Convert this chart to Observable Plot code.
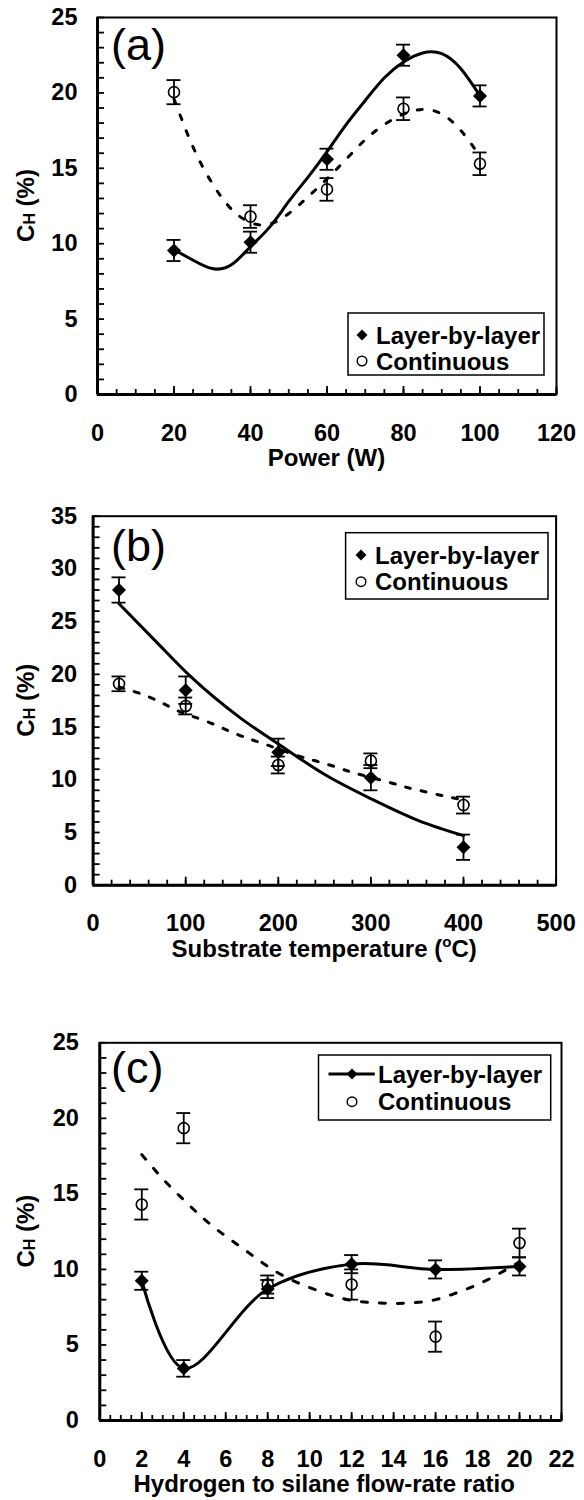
<!DOCTYPE html>
<html><head><meta charset="utf-8">
<script src="https://cdn.jsdelivr.net/npm/d3@7"></script>
<script src="https://cdn.jsdelivr.net/npm/@observablehq/plot@0.6"></script>
<style>
html,body{margin:0;padding:0;background:#fff;overflow:hidden}
#chart{position:relative;width:584px;height:1500px}
#chart svg{display:block}
</style></head><body><div id="chart"></div>
<script>
// ---------- Panel (a): Power ----------
const powerW = [20, 40, 60, 80, 100];
const powerLBL = [9.55, 10.1, 15.6, 22.5, 19.8];
const powerLBLerr = [0.7, 0.7, 0.7, 0.7, 0.7];
const powerCont = [20.05, 11.8, 13.6, 18.95, 15.3];
const powerContErr = [0.8, 0.75, 0.75, 0.75, 0.75];
const powerFitLBLx = [20, 25, 30, 35, 40, 45, 50, 55, 60, 65, 70, 75, 80, 85, 90, 95, 100];
const powerFitLBLy = [9.6, 8.9, 8.35, 8.6, 9.8, 11.1, 12.8, 14.4, 16.1, 17.9, 19.5, 21.0, 22.05, 22.65, 22.6, 21.6, 19.8];
const powerFitContx = [20, 25, 30, 35, 40, 45, 50, 55, 60, 65, 70, 75, 80, 85, 90, 95, 100];
const powerFitConty = [19.6, 16.4, 14.0, 12.3, 11.4, 11.3, 12.0, 13.1, 14.3, 15.6, 16.9, 17.9, 18.6, 18.9, 18.6, 17.5, 15.8];
const powerXTicks = [0, 20, 40, 60, 80, 100, 120];
const powerYTicks = [0, 5, 10, 15, 20, 25];

// ---------- Panel (b): Substrate temperature ----------
const tempC = [28, 100, 200, 300, 400];
const tempLBL = [28.0, 18.5, 12.6, 10.2, 3.6];
const tempLBLerr = [1.2, 1.3, 1.3, 1.2, 1.2];
const tempCont = [19.1, 17.0, 11.4, 11.8, 7.6];
const tempContErr = [0.7, 0.8, 0.8, 0.7, 0.8];
const tempFitLBLx = [28, 68, 104, 160, 200, 252, 300, 352, 400];
const tempFitLBLy = [26.7, 23.1, 19.9, 15.8, 13.4, 10.4, 8.2, 6.1, 4.7];
const tempFitContx = [28, 50, 72, 90, 108, 132, 150, 168, 188, 224, 244, 266, 284, 322, 342, 362, 382, 400];
const tempFitConty = [18.8, 18.2, 17.4, 16.6, 16.0, 15.2, 14.5, 13.9, 13.3, 12.2, 11.7, 11.1, 10.6, 9.7, 9.2, 8.8, 8.4, 8.1];
const tempXTicks = [0, 100, 200, 300, 400, 500];
const tempYTicks = [0, 5, 10, 15, 20, 25, 30, 35];

// ---------- Panel (c): H2/SiH4 ratio ----------
const ratio = [2, 4, 8, 12, 16, 20];
const ratioLBL = [9.25, 3.45, 8.7, 10.35, 10.0, 10.2];
const ratioLBLerr = [0.6, 0.55, 0.6, 0.6, 0.6, 0.6];
const ratioCont = [14.3, 19.35, 9.0, 9.0, 5.55, 11.75];
const ratioContErr = [1.0, 1.0, 0.6, 1.0, 1.0, 0.95];
const ratioFitContx = [2, 3, 4, 5, 6, 7, 8, 9, 10, 11, 12, 13, 14, 15, 16, 17, 18, 19, 20];
const ratioFitConty = [17.6, 16.0, 14.6, 13.3, 12.2, 11.2, 10.2, 9.4, 8.8, 8.3, 7.95, 7.8, 7.75, 7.8, 8.0, 8.45, 9.0, 9.7, 10.5];
const ratioXTicks = [0, 2, 4, 6, 8, 10, 12, 14, 16, 18, 20, 22];
const ratioYTicks = [0, 5, 10, 15, 20, 25];

const seriesNames = ["Layer-by-layer", "Continuous"];
const yTitle = ["C", "H", " (%)"];

const FONT = '"Liberation Sans", Arial, Helvetica, sans-serif';
const W = 584, H = 500;
const TICK_FS = 23.5, TITLE_FS = 24;

function panel(o) {
  const fw = W - o.ml - o.mr, fh = H - o.mt - o.mb;
  const lbl = o.x.map((x, i) => ({x, y: o.lbl[i], e: o.lblErr[i]}));
  const cont = o.x.map((x, i) => ({x, y: o.cont[i], e: o.contErr[i]}));
  const both = lbl.concat(cont);
  const fitL = o.fitLx ? o.fitLx.map((x, i) => ({x, y: o.fitLy[i]})) : lbl;
  const fitC = o.fitCx.map((x, i) => ({x, y: o.fitCy[i]}));
  const xMinor = d3.range(o.xDomain[0], o.xDomain[1] + 1e-9, o.xMinorStep);
  const yMinor = d3.range(o.yDomain[0], o.yDomain[1] + 1e-9, 1);
  const ew = 1.8;
  const svg = Plot.plot({
    width: W, height: H,
    marginTop: o.mt, marginBottom: o.mb, marginLeft: o.ml, marginRight: o.mr,
    x: {domain: o.xDomain, axis: null},
    y: {domain: o.yDomain, axis: null},
    style: {fontFamily: FONT, fontSize: "22px", fontWeight: "bold", background: "white", overflow: "visible", color: "black"},
    marks: [
      Plot.tickX(xMinor, {x: d => d, insetTop: fh - 5, strokeWidth: 1.8}),
      Plot.tickX(o.xTicks, {x: d => d, insetTop: fh - 8, strokeWidth: 1.8}),
      Plot.tickY(yMinor, {y: d => d, insetRight: fw - 7, strokeWidth: 1.8}),
      Plot.text(o.xTicks, {x: d => d, text: d => String(d), frameAnchor: "bottom", dy: o.xdy, textAnchor: "middle", lineAnchor: "middle", fontSize: TICK_FS, fontWeight: "bold"}),
      Plot.text(o.yTicks, {y: d => d, text: d => String(d), frameAnchor: "left", dx: -o.ypad, textAnchor: "end", lineAnchor: "middle", fontSize: TICK_FS, fontWeight: "bold"}),
      Plot.line(fitC, {x: "x", y: "y", curve: "natural", strokeWidth: 3, strokeDasharray: o.dash, stroke: "black"}),
      Plot.line(fitL, {x: "x", y: "y", curve: o.curveL, strokeWidth: 3, stroke: "black"}),
      Plot.ruleX(both, {x: "x", y1: d => d.y - d.e, y2: d => d.y + d.e, strokeWidth: ew}),
      Plot.ruleY(both, {x1: "x", x2: "x", y: d => d.y + d.e, insetLeft: -7, insetRight: -7, strokeWidth: ew}),
      Plot.ruleY(both, {x1: "x", x2: "x", y: d => d.y - d.e, insetLeft: -7, insetRight: -7, strokeWidth: ew}),
      Plot.dot(cont, {x: "x", y: "y", r: 5.5, fill: "none", stroke: "black", strokeWidth: 1.6}),
      Plot.dot(lbl, {x: "x", y: "y", symbol: "diamond2", r: 6.3, fill: "black", stroke: "none"}),
      Plot.frame({stroke: "black", strokeWidth: 2}),
      Plot.ruleX([o.xDomain[0]], {strokeWidth: 3}),
      Plot.ruleY([o.yDomain[0]], {strokeWidth: 3})
    ]
  });
  const s = d3.select(svg);
  // panel letter
  s.append("text").attr("x", 111).attr("y", o.letterY).attr("text-anchor", "start")
    .attr("font-size", 45).attr("font-weight", "normal").attr("fill", "black").text(o.letter);
  // y title with subscript
  const yt = s.append("text")
    .attr("transform", `translate(${o.ytx},${o.mt + fh / 2}) rotate(-90)`)
    .attr("text-anchor", "middle").attr("font-size", TITLE_FS).attr("font-weight", "bold").attr("fill", "black");
  yt.append("tspan").attr("dy", "0.35em").text(yTitle[0]);
  yt.append("tspan").attr("font-size", 16).attr("dy", 1).text(yTitle[1]);
  yt.append("tspan").attr("dy", -1).text(yTitle[2]);
  // x title
  const xt = s.append("text")
    .attr("x", o.ml + fw / 2 + (o.xtdx || 0)).attr("y", H - o.mb + o.xtdy)
    .attr("text-anchor", "middle").attr("font-size", TITLE_FS).attr("font-weight", "bold").attr("fill", "black");
  o.xTitle.forEach(p => {
    const ts = xt.append("tspan").text(p.t);
    if (p.sup) ts.attr("font-size", 15).attr("dy", -10);
    if (p.after) ts.attr("dy", 10);
  });
  // legend
  const L = o.legend;
  const g = s.append("g").attr("text-anchor", "start");
  g.append("rect").attr("x", L.x).attr("y", L.y).attr("width", L.w).attr("height", L.h)
    .attr("fill", "white").attr("stroke", "black").attr("stroke-width", 1.5);
  if (L.line) {
    g.append("line").attr("x1", L.line[0]).attr("x2", L.line[1]).attr("y1", L.r1).attr("y2", L.r1)
      .attr("stroke", "black").attr("stroke-width", 3);
  }
  g.append("path").attr("d", d3.symbol(d3.symbolDiamond2, 77)())
    .attr("transform", `translate(${L.mx},${L.r1})`).attr("fill", "black");
  g.append("circle").attr("cx", L.mx).attr("cy", L.r2).attr("r", 4.8)
    .attr("fill", "none").attr("stroke", "black").attr("stroke-width", 1.5);
  g.append("text").attr("x", L.tx).attr("y", L.r1).attr("dy", "0.36em").attr("text-anchor", "start")
    .attr("font-size", TITLE_FS).attr("font-weight", "bold").attr("fill", "black").text(seriesNames[0]);
  g.append("text").attr("x", L.tx).attr("y", L.r2).attr("dy", "0.36em").attr("text-anchor", "start")
    .attr("font-size", TITLE_FS).attr("font-weight", "bold").attr("fill", "black").text(seriesNames[1]);
  return svg;
}

const chart = document.getElementById("chart");

chart.appendChild(panel({
  mt: 17, mb: 106, ml: 97, mr: 28,
  xDomain: [0, 120], yDomain: [0, 25], xMinorStep: 5,
  xTicks: powerXTicks, yTicks: powerYTicks, xdy: 39, ypad: 20,
  x: powerW, lbl: powerLBL, lblErr: powerLBLerr, cont: powerCont, contErr: powerContErr,
  fitLx: powerFitLBLx, fitLy: powerFitLBLy, fitCx: powerFitContx, fitCy: powerFitConty,
  curveL: "natural", dash: "5,12",
  letter: "(a)", letterY: 60, ytx: 26, xtdy: 72,
  xTitle: [{t: "Power (W)"}],
  legend: {x: 348, y: 313, w: 196, h: 62, mx: 362, tx: 376, r1: 335, r2: 361}
}));

chart.appendChild(panel({
  mt: 15.7, mb: 115.3, ml: 92.6, mr: 28.4,
  xDomain: [0, 500], yDomain: [0, 35], xMinorStep: 20,
  xTicks: tempXTicks, yTicks: tempYTicks, xdy: 38, ypad: 16,
  x: tempC, lbl: tempLBL, lblErr: tempLBLerr, cont: tempCont, contErr: tempContErr,
  fitLx: tempFitLBLx, fitLy: tempFitLBLy, fitCx: tempFitContx, fitCy: tempFitConty,
  curveL: "monotone-x", dash: "5,11",
  letter: "(b)", letterY: 61, ytx: 26, xtdy: 72,
  xTitle: [{t: "Substrate temperature ("}, {t: "o", sup: true}, {t: "C)", after: true}],
  legend: {x: 345.6, y: 32.7, w: 202.4, h: 66.3, mx: 361, tx: 375, r1: 55, r2: 81.7}
}));

chart.appendChild(panel({
  mt: 42.3, mb: 80, ml: 99.3, mr: 23,
  xDomain: [0, 22], yDomain: [0, 25], xMinorStep: 0.5,
  xTicks: ratioXTicks, yTicks: ratioYTicks, xdy: 39, ypad: 21,
  x: ratio, lbl: ratioLBL, lblErr: ratioLBLerr, cont: ratioCont, contErr: ratioContErr,
  fitLx: null, fitLy: null, fitCx: ratioFitContx, fitCy: ratioFitConty,
  curveL: "catmull-rom", dash: "6,12",
  letter: "(c)", letterY: 83, ytx: 26, xtdy: 72, xtdx: -6,
  xTitle: [{t: "Hydrogen to silane flow-rate ratio"}],
  legend: {x: 318.5, y: 55, w: 232.2, h: 65, mx: 352, tx: 378, r1: 74, r2: 101.7, line: [328.5, 374.8]}
}));
</script>
</body></html>
